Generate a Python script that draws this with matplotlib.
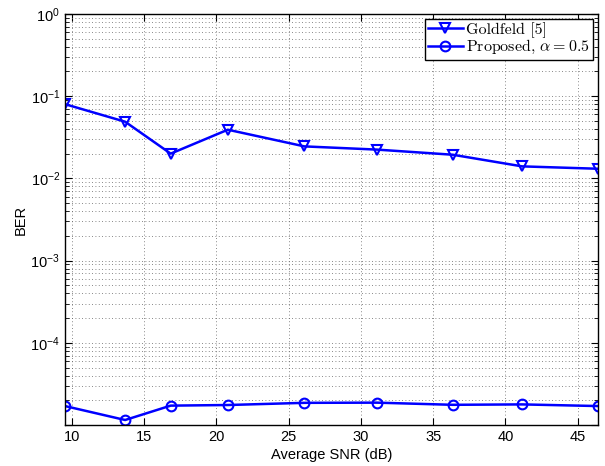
import matplotlib

matplotlib.use("Agg")
import matplotlib.pyplot as plt
from matplotlib.ticker import LogLocator, NullFormatter, FixedLocator

# ==================== Data ====================
SNR_DB = [9.54, 13.7, 16.85, 20.8, 26.1, 31.1, 36.35, 41.15, 46.38]
BER_GOLDFELD = [0.080, 0.0489, 0.0200, 0.0391, 0.0245, 0.0224, 0.0194, 0.0140, 0.0131]
BER_PROPOSED = [1.70e-5, 1.15e-5, 1.72e-5, 1.75e-5, 1.86e-5, 1.87e-5, 1.76e-5, 1.78e-5, 1.70e-5]
X_TICKS = [10, 15, 20, 25, 30, 35, 40, 45]
LABEL_A = "Goldfeld [5]"
LABEL_B = r"Proposed, $\alpha = 0.5$"
# ===============================================

GRID_STYLE = dict(linestyle=(0, (1, 3)), color="#606060", linewidth=0.6)

plt.rcParams["font.family"] = ["Liberation Sans", "DejaVu Sans"]
plt.rcParams["mathtext.fontset"] = "cm"

fig = plt.figure(figsize=(6.05, 4.66), dpi=100)
ax = fig.add_axes([0.1074, 0.088, 0.8806, 0.882])

ax.semilogy(SNR_DB, BER_GOLDFELD, color="#0000ff", linewidth=1.8, marker="v",
            markersize=7, markerfacecolor="none", markeredgewidth=1.5, label=LABEL_A)
ax.semilogy(SNR_DB, BER_PROPOSED, color="#0000ff", linewidth=1.8, marker="o",
            markersize=7, markerfacecolor="none", markeredgewidth=1.5, label=LABEL_B)

ax.set_xlim(9.54, 46.38)
ax.set_ylim(1.0e-5, 1.0)
ax.xaxis.set_major_locator(FixedLocator(X_TICKS))
ax.yaxis.set_major_locator(LogLocator(base=10, numticks=10))
ax.yaxis.set_minor_locator(LogLocator(base=10, subs=range(2, 10), numticks=10))
ax.yaxis.set_minor_formatter(NullFormatter())

ax.grid(True, which="major", axis="both", **GRID_STYLE)
ax.grid(True, which="minor", axis="y", **GRID_STYLE)

ax.tick_params(which="both", direction="in", top=True, right=True, labelsize=10.5)
ax.tick_params(which="major", length=5)
ax.tick_params(which="minor", length=3)
for spine in ax.spines.values():
    spine.set_linewidth(1.0)
    spine.set_color("black")

# the bottom decade label is not shown in the original
fig.canvas.draw()
for tick in ax.yaxis.get_major_ticks():
    if abs(tick.get_loc() - 1e-5) < 1e-9:
        tick.label1.set_visible(False)

ax.set_xlabel("Average SNR (dB)", fontsize=10.5, labelpad=3)
ax.set_ylabel("BER", fontsize=10.5, labelpad=2)

leg = ax.legend(loc="upper right", prop={"family": "cmr10", "size": 11.5},
                fancybox=False, framealpha=1.0, edgecolor="black",
                borderpad=0.2, handlelength=2.2, handletextpad=0.2,
                labelspacing=0.05, borderaxespad=0.3)
leg.get_frame().set_linewidth(1.0)

fig.savefig("out.png", dpi=100)
plt.close(fig)
